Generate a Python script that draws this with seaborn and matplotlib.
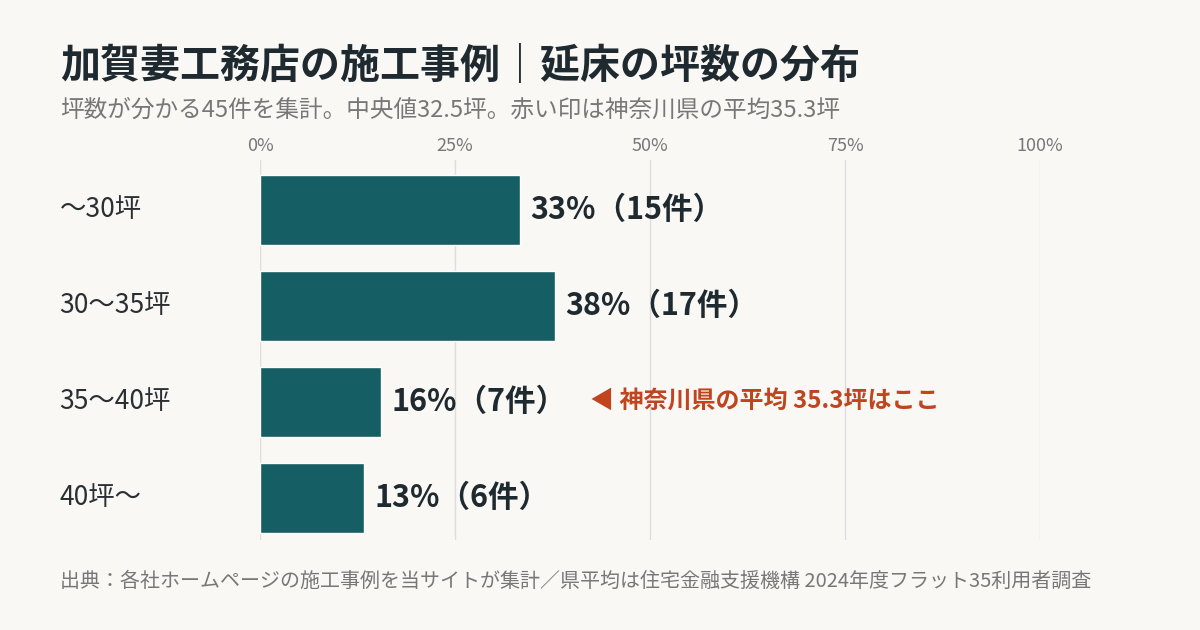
import matplotlib
matplotlib.use("Agg")
import matplotlib.pyplot as plt
import seaborn as sns
import pandas as pd

categories = ["〜30坪", "30〜35坪", "35〜40坪", "40坪〜"]
counts = [15, 17, 7, 6]
total = 45
pct = [c / total * 100 for c in counts]
ticks = [0, 25, 50, 75, 100]

sns.set_theme(style="white")
plt.rcParams['font.family'] = ['Noto Sans CJK JP', 'DejaVu Sans']
BG = "#f9f8f5"
fig = plt.figure(figsize=(12, 6.3), dpi=100, facecolor=BG)
ax = fig.add_axes([0.2167, 0.1429, 0.65, 0.603])
ax.set_facecolor(BG)
df = pd.DataFrame({"cat": categories, "pct": pct})
sns.barplot(data=df, x="pct", y="cat", color="#155e63", width=0.73, ax=ax, saturation=1)
ax.set_xlim(0, 100)
ax.set_ylim(3.44, -0.52)
ax.set_xticks(ticks)
ax.set_xticklabels([f"{t}%" for t in ticks], color="#777777", fontsize=13)
ax.xaxis.tick_top()
ax.tick_params(axis="x", length=0, pad=4)
ax.set_yticks(range(4))
ax.set_yticklabels([])
ax.tick_params(axis="y", length=0)
ax.set_xlabel(""); ax.set_ylabel("")
ax.grid(axis="x", color="#dddddd", linewidth=1)
ax.set_axisbelow(True)
for s in ax.spines.values():
    s.set_visible(False)
trans = ax.get_yaxis_transform()
for i, cat in enumerate(categories):
    ax.text(-0.257, i, cat, transform=trans, va="center", ha="left",
            fontsize=19, color="#2a2f33")
for i, (p, c) in enumerate(zip(pct, counts)):
    ax.text(p + 1.3, i, f"{round(p)}%（{c}件）", va="center", ha="left",
            fontsize=22, fontweight="bold", color="#1f2a30")
ax.text(42.3, 2, "◀ 神奈川県の平均 35.3坪はここ", va="center", ha="left",
        fontsize=17.3, fontweight="bold", color="#c0451f")
fig.text(0.05, 0.895, "加賀妻工務店の施工事例｜延床の坪数の分布", fontsize=28.8,
         fontweight="bold", color="#1f2a30", va="center")
fig.text(0.05, 0.825, "坪数が分かる45件を集計。中央値32.5坪。赤い印は神奈川県の平均35.3坪",
         fontsize=17, color="#777777", va="center")
fig.text(0.05, 0.077, "出典：各社ホームページの施工事例を当サイトが集計／県平均は住宅金融支援機構 2024年度フラット35利用者調査",
         fontsize=14.4, color="#777777", va="center")
fig.savefig("out.png", dpi=100, facecolor=BG)
